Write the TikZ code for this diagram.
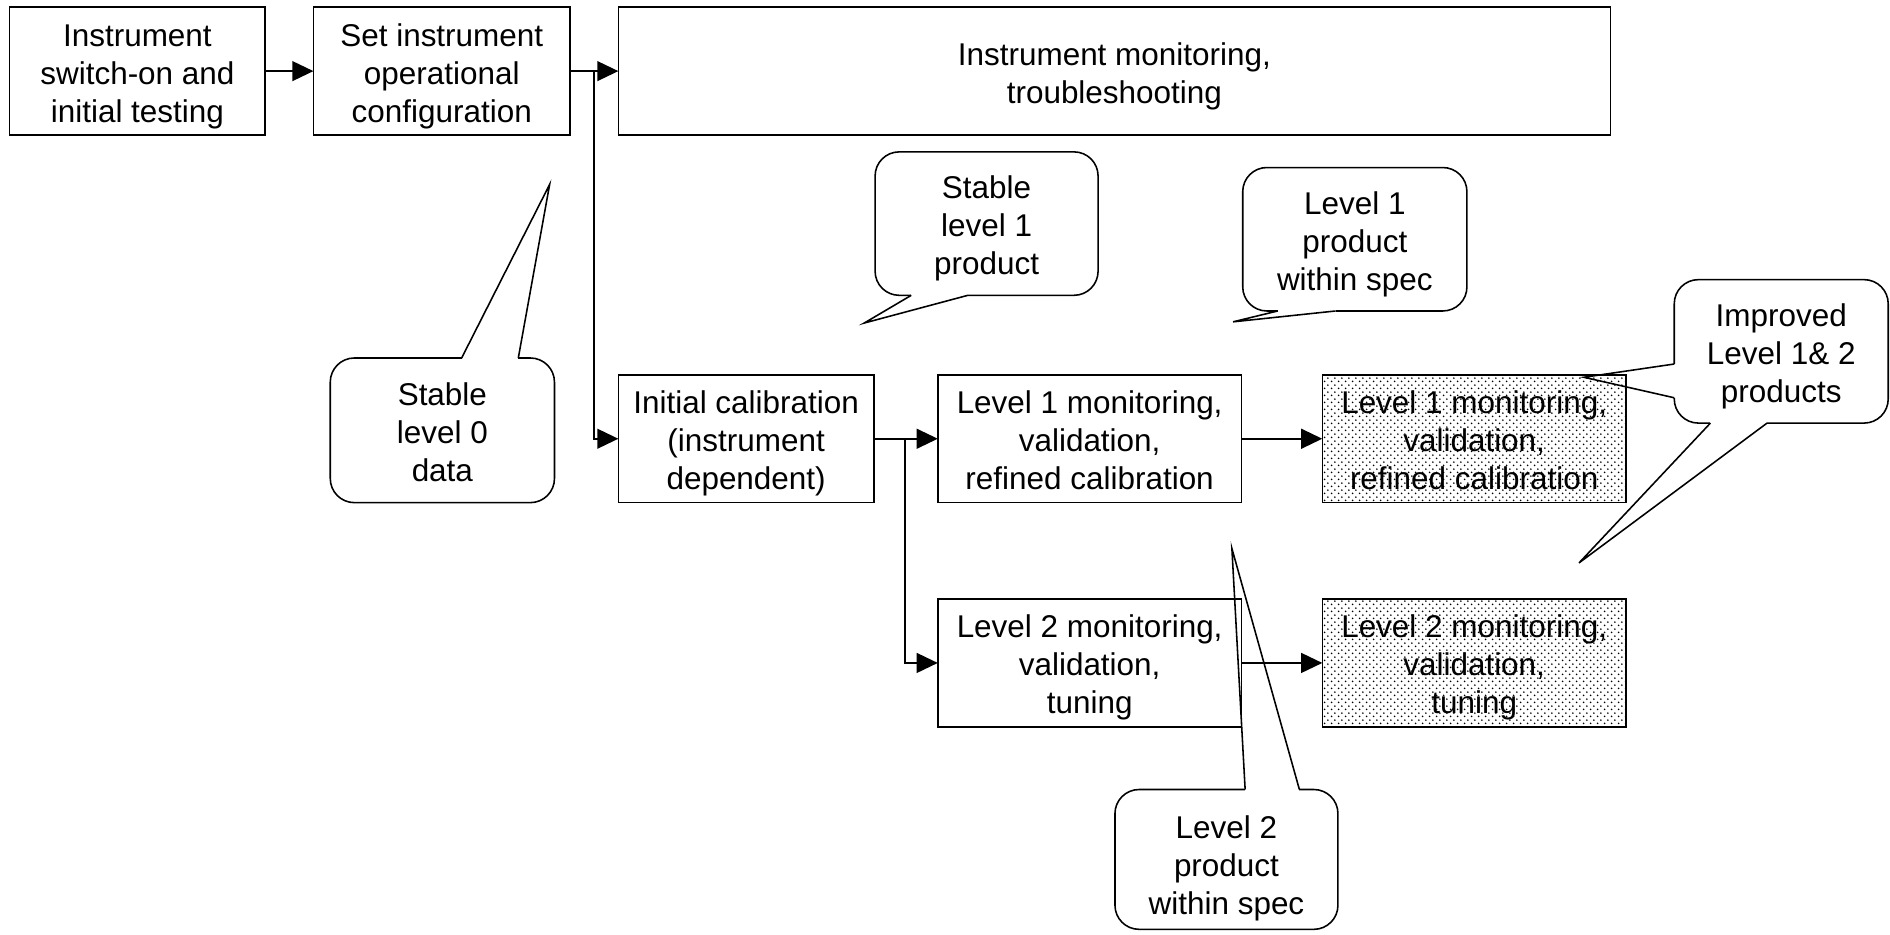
\documentclass[tikz,border=0pt]{standalone}
\usepackage{fontspec}
\setmainfont{Liberation Sans}
\usetikzlibrary{arrows.meta,patterns}
\pgfdeclarepatternformonly{mydots}{\pgfqpoint{0pt}{0pt}}{\pgfqpoint{5.6pt}{5.6pt}}{\pgfqpoint{5.6pt}{5.6pt}}{%
  \pgfpathcircle{\pgfqpoint{1.4pt}{1.4pt}}{0.8pt}%
  \pgfpathcircle{\pgfqpoint{4.2pt}{4.2pt}}{0.8pt}%
  \pgfusepath{fill}}
\newcommand\lnstrut{\rule[-5.5pt]{0pt}{32.6pt}}
\newcommand\lastlnstrut{\rule[-5.5pt]{0pt}{20pt}}
\newcommand\tallstrut{\rule[-5.5pt]{0pt}{39pt}}
\tikzset{
  box/.style={draw, line width=1.3pt, inner sep=0pt, outer sep=0pt, align=center, minimum height=106pt},
  narrowbox/.style={box, minimum width=212pt},
  widebox/.style={box, minimum width=252pt},
  shadebox/.style={widebox, pattern=mydots},
  arr/.style={-{Triangle[length=17.5pt,width=16.5pt]}, line width=1.3pt},
  bubble/.style={draw, line width=1.3pt, rounded corners=20pt, inner sep=0pt, outer sep=0pt, align=center},
  erase/.style={white, line width=3pt},
  pointer/.style={line width=1.3pt, line join=miter},
}
\begin{document}
\begin{tikzpicture}[x=1pt, y=-1pt, font=\fontsize{26.1}{31.5}\selectfont]
\useasboundingbox (0,0) rectangle (1568,775);

% process boxes
\node[narrowbox] (b1) at (114,59) {\lnstrut Instrument\\switch-on and\\initial testing\lastlnstrut};
\node[box, minimum width=213pt] (b2) at (366.5,59) {\lnstrut Set instrument\\operational\\configuration\lastlnstrut};
\node[box, minimum width=823pt] (b3) at (924.5,59) {\lnstrut Instrument monitoring,\\troubleshooting\lastlnstrut};
\node[narrowbox] (b4) at (619,364) {\lnstrut Initial calibration\\(instrument\\dependent)\lastlnstrut};
\node[widebox] (b5) at (904,364) {\lnstrut Level 1 monitoring,\\validation,\\refined calibration\lastlnstrut};
\node[shadebox] (b6) at (1223,364) {\lnstrut Level 1 monitoring,\\validation,\\refined calibration\lastlnstrut};
\node[widebox] (b7) at (904,550) {\lnstrut Level 2 monitoring,\\validation,\\tuning\lastlnstrut};
\node[shadebox] (b8) at (1223,550) {\lnstrut Level 2 monitoring,\\validation,\\tuning\lastlnstrut};

% connectors
\coordinate (j1) at (493,59);
\coordinate (j2) at (751,364);
\draw[arr] (b1) -- (b2);
\draw[arr] (b2) -- (b3);
\draw[arr] (j1) |- (b4.west);
\draw[arr] (b4) -- (b5);
\draw[arr] (j2) |- (b7.west);
\draw[arr] (b5) -- (b6);
\draw[arr] (b7) -- (b8);

% callouts
\node[bubble, minimum width=186pt, minimum height=120pt] (c1) at (367,357) {\lnstrut Stable\\level 0\\data\lastlnstrut};
\coordinate (c1a) at (383,297); \coordinate (c1b) at (430,297); \coordinate (c1t) at (456,153);
\draw[erase] (c1a) -- (c1b);
\draw[pointer] (c1a) -- (c1t) -- (c1b);

\node[bubble, minimum width=185pt, minimum height=119pt] (c2) at (818.5,185.5) {\lnstrut Stable\\level 1\\product\lastlnstrut};
\coordinate (c2a) at (756,245); \coordinate (c2b) at (803,245); \coordinate (c2t) at (717,268);
\draw[erase] (c2a) -- (c2b);
\draw[pointer] (c2a) -- (c2t) -- (c2b);

\node[bubble, minimum width=186pt, minimum height=119pt] (c3) at (1124,198.5) {\lnstrut Level 1\\product\\within spec\lastlnstrut};
\coordinate (c3a) at (1060,258); \coordinate (c3b) at (1108,258); \coordinate (c3t) at (1023,267);
\draw[erase] (c3a) -- (c3b);
\draw[pointer] (c3a) -- (c3t) -- (c3b);

\node[bubble, minimum width=177.5pt, minimum height=119pt] (c4) at (1477.75,291.5) {\lnstrut Improved\\Level 1\& 2\\products\lastlnstrut};
\coordinate (c4a) at (1389,302); \coordinate (c4b) at (1389,330); \coordinate (c4t) at (1314,313);
\draw[erase] (c4a) -- (c4b);
\draw[pointer] (c4a) -- (c4t) -- (c4b);
\coordinate (c4c) at (1419,351); \coordinate (c4d) at (1466,351); \coordinate (c4u) at (1310,467);
\draw[erase] (c4c) -- (c4d);
\draw[pointer] (c4c) -- (c4u) -- (c4d);

\node[bubble, minimum width=185pt, minimum height=116pt] (c5) at (1017.5,713) {\tallstrut Level 2\\product\\within spec\lastlnstrut};
\coordinate (c5a) at (1033,655); \coordinate (c5b) at (1078,655); \coordinate (c5t) at (1022,455);
\draw[erase] (c5a) -- (c5b);
\draw[pointer] (c5a) -- (c5t) -- (c5b);
\end{tikzpicture}
\end{document}
